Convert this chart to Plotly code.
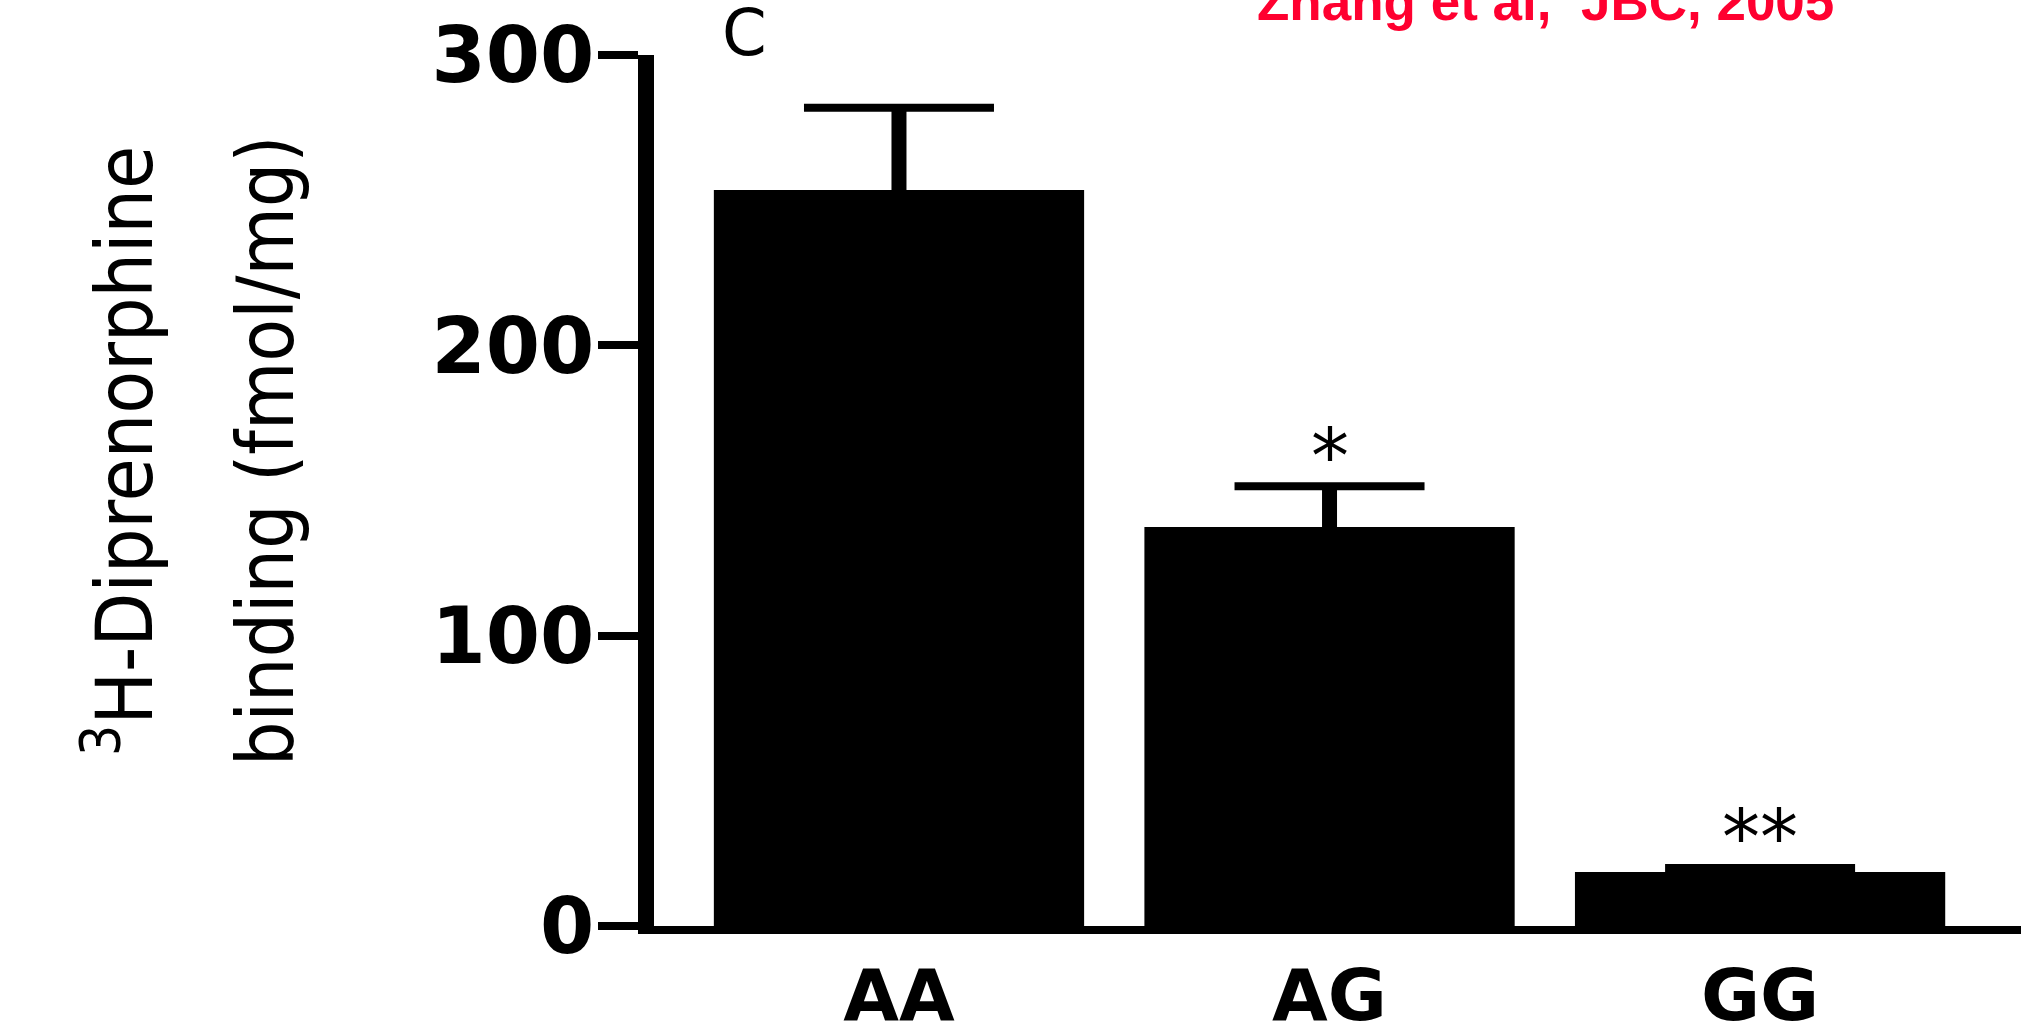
import plotly.graph_objects as go

genotypes = ["AA", "AG", "GG"]
binding_mean = [253.5, 137.4, 18.6]
binding_sem = [28.3, 14.1, 1.4]
significance = ["", "*", "**"]
y_ticks = [0, 100, 200, 300]
y_title_lines = ["<sup>3</sup>H-Diprenorphine", "binding (fmol/mg)"]
panel_label = "C"
citation = "Zhang et al,\u00a0 JBC, 2005"

W, H = 2027, 1025
L, R, T, B = 654, 6, 55, 99


def px_x(px):
    return (px - L) / (W - L - R)


def px_y(py):
    return (H - B - py) / (H - B - T)


fig = go.Figure()
fig.add_trace(go.Bar(
    x=genotypes, y=binding_mean, width=0.86,
    marker=dict(color="black", line=dict(width=0)),
    error_y=dict(type="data", array=binding_sem, symmetric=True,
                 color="black", thickness=8, width=95),
    showlegend=False,
))
fig.add_trace(go.Scatter(
    x=genotypes, y=binding_mean, mode="markers",
    marker=dict(size=1, opacity=0),
    error_y=dict(type="data", array=binding_sem, symmetric=True,
                 color="black", thickness=15, width=0),
    showlegend=False, hoverinfo="skip",
))

for g, m, s, sig in zip(genotypes, binding_mean, binding_sem, significance):
    if sig:
        fig.add_annotation(x=g, y=m + s, xref="x", yref="y", text=sig,
                           showarrow=False, yanchor="middle", yshift=30,
                           font=dict(family="DejaVu Sans", size=76, color="black"))

for line, cx in zip(y_title_lines, [119, 266]):
    fig.add_annotation(xref="paper", yref="paper", x=px_x(cx), y=px_y(451),
                       xanchor="center", yanchor="middle",
                       text=line, textangle=-90, showarrow=False,
                       font=dict(family="Liberation Sans Narrow, DejaVu Sans Condensed, Liberation Sans",
                                 size=78, color="black"))

fig.add_annotation(xref="paper", yref="paper", x=px_x(744), y=px_y(33),
                   xanchor="center", yanchor="middle",
                   text=panel_label, showarrow=False,
                   font=dict(family="DejaVu Sans", size=64, color="black"))
fig.add_annotation(xref="paper", yref="paper", x=px_x(1255), y=px_y(33),
                   xanchor="left", yanchor="bottom",
                   text=citation, showarrow=False,
                   font=dict(family="Liberation Sans", size=53, color="#ff0030", weight="bold"))

fig.update_layout(
    width=W, height=H, autosize=False,
    margin=dict(l=L, r=R, t=T, b=B, pad=0, autoexpand=False),
    paper_bgcolor="white", plot_bgcolor="white",
    barmode="overlay",
    xaxis=dict(range=[-0.569, 2.606], showgrid=False, zeroline=False, automargin=False,
               showline=True, linewidth=8, linecolor="black",
               ticks="", ticklabelstandoff=0,
               tickfont=dict(family="DejaVu Sans", size=72, color="black", weight="bold")),
    yaxis=dict(range=[0, 300], tickvals=y_ticks, showgrid=False, zeroline=False, automargin=False,
               showline=True, linewidth=16, linecolor="black",
               ticks="outside", ticklen=40, tickwidth=8, tickcolor="black",
               ticklabelstandoff=-12,
               tickfont=dict(family="DejaVu Sans", size=78, color="black", weight="bold")),
)

fig.write_html("out.html", config={"displayModeBar": False},
               post_script="document.body.style.margin='0px';")
